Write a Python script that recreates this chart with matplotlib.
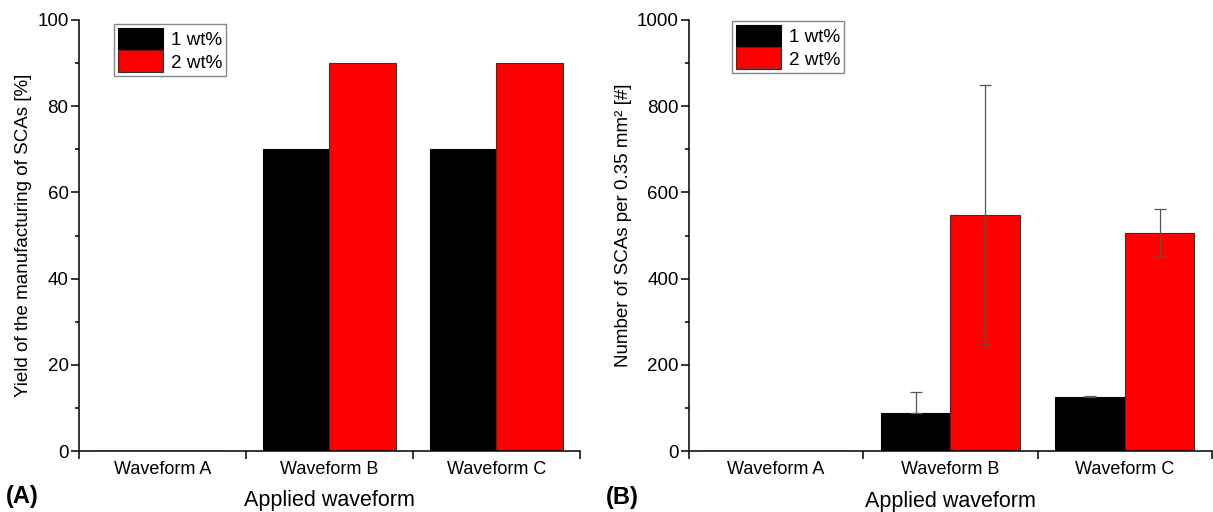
import numpy as np
import matplotlib
matplotlib.use('Agg')
import matplotlib.pyplot as plt
from matplotlib.ticker import MultipleLocator, FixedLocator, NullFormatter

plt.rcParams['font.family'] = ['Liberation Sans', 'DejaVu Sans']

# data
waveforms = ['Waveform A', 'Waveform B', 'Waveform C']
seriesNames = ['1 wt%', '2 wt%']
yieldOne = [0, 70, 70]
yieldTwo = [0, 90, 90]
countOne = [0, 88, 125]
countOneErrUp = [0, 50, 2]
countTwo = [0, 548, 507]
countTwoErr = [0, 301, 55]

fig = plt.figure(figsize=(12.13, 5.12), dpi=100)
axA = fig.add_axes([0.0651, 0.119, 0.4130, 0.842])
axB = fig.add_axes([0.5680, 0.119, 0.4310, 0.842])

xPos = np.arange(len(waveforms)) + 0.5
barW = 0.4


def styleAxis(ax, ymax, ystep):
    ax.spines['top'].set_visible(False)
    ax.spines['right'].set_visible(False)
    for side in ['left', 'bottom']:
        ax.spines[side].set_linewidth(1.1)
    ax.set_xlim(0, len(waveforms))
    ax.set_ylim(0, ymax)
    ax.yaxis.set_major_locator(MultipleLocator(ystep))
    ax.yaxis.set_minor_locator(MultipleLocator(ystep / 2))
    ax.tick_params(axis='y', which='major', direction='out', length=5.5, width=1.1,
                   labelsize=13.5, pad=2)
    ax.tick_params(axis='y', which='minor', direction='out', length=3, width=1.1)
    # boundary ticks as major (no labels), names on minor ticks at centres
    ax.xaxis.set_major_locator(FixedLocator(np.arange(len(waveforms) + 1)))
    ax.xaxis.set_major_formatter(NullFormatter())
    ax.xaxis.set_minor_locator(FixedLocator(xPos))
    ax.set_xticklabels(waveforms, minor=True)
    ax.tick_params(axis='x', which='major', direction='out', length=5.5, width=1.1)
    ax.tick_params(axis='x', which='minor', length=0, labelsize=13, pad=7)


# panel A
axA.bar(xPos - barW / 2, yieldOne, width=barW, color='black', edgecolor='black',
        linewidth=0.8, label=seriesNames[0])
axA.bar(xPos + barW / 2, yieldTwo, width=barW, color='#ff0000', edgecolor='#333333',
        linewidth=0.8, label=seriesNames[1])
styleAxis(axA, 100, 20)
axA.set_xlabel('Applied waveform', fontsize=15.5, labelpad=9)
axA.set_ylabel('Yield of the manufacturing of SCAs [%]', fontsize=13.5)
axA.yaxis.set_label_coords(-0.094, 0.5)

# panel B
axB.bar(xPos - barW / 2, countOne, width=barW, color='black', edgecolor='black',
        linewidth=0.8, label=seriesNames[0])
axB.bar(xPos + barW / 2, countTwo, width=barW, color='#ff0000', edgecolor='#333333',
        linewidth=0.8, label=seriesNames[1])
axB.errorbar(xPos[1:] - barW / 2, countOne[1:],
             yerr=[np.zeros(2), countOneErrUp[1:]], fmt='none',
             ecolor='#555555', elinewidth=0.9, capsize=4, capthick=0.9, zorder=3)
axB.errorbar(xPos[1:] + barW / 2, countTwo[1:], yerr=countTwoErr[1:], fmt='none',
             ecolor='#555555', elinewidth=0.9, capsize=4, capthick=0.9, zorder=3)
styleAxis(axB, 1000, 200)
axB.set_xlabel('Applied waveform', fontsize=15.5, labelpad=9.5)
axB.set_ylabel('Number of SCAs per 0.35 mm\u00b2 [#]', fontsize=13.5)
axB.yaxis.set_label_coords(-0.109, 0.524)

for ax, anchor in [(axA, (0.07, 0.991)), (axB, (0.082, 0.998))]:
    leg = ax.legend(loc='upper left', bbox_to_anchor=anchor, fontsize=13.6,
                    handlelength=2.4, handleheight=1.4, labelspacing=0.05,
                    handletextpad=0.4, borderpad=0.2, borderaxespad=0,
                    fancybox=False, framealpha=1)
    leg.get_frame().set_edgecolor('#888888')
    leg.get_frame().set_linewidth(1.0)

fig.text(0.005, 0.031, '(A)', fontsize=17, fontweight='bold', va='center', ha='left')
fig.text(0.4995, 0.029, '(B)', fontsize=17, fontweight='bold', va='center', ha='left')

fig.savefig('out.png', dpi=100)
